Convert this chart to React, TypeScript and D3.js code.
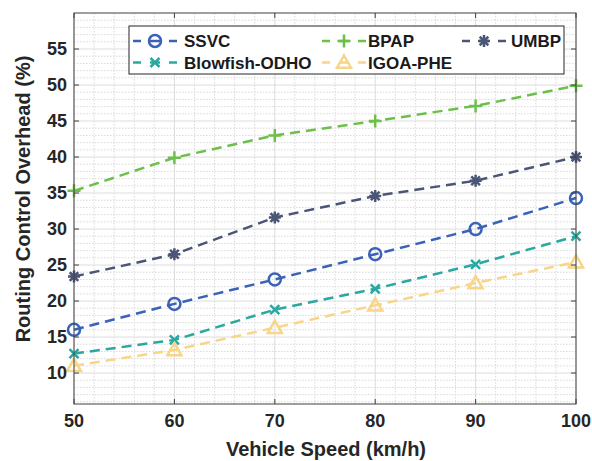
import React from "react";
import * as d3 from "d3";

const speeds = [50, 60, 70, 80, 90, 100];
const ssvc = [16.0, 19.6, 23.0, 26.5, 30.0, 34.3];
const bpap = [35.3, 39.9, 43.0, 45.0, 47.1, 49.9];
const umbp = [23.4, 26.5, 31.6, 34.6, 36.7, 40.0];
const blowfish = [12.7, 14.6, 18.8, 21.7, 25.1, 29.0];
const igoa = [11.0, 13.2, 16.3, 19.4, 22.5, 25.4];
const xTicks = [50, 60, 70, 80, 90, 100];
const yTicks = [10, 15, 20, 25, 30, 35, 40, 45, 50, 55];

const seriesList = [
  { name: "SSVC", values: ssvc, color: "#3A62B8", marker: "circle" },
  { name: "BPAP", values: bpap, color: "#6CC04A", marker: "plus" },
  { name: "UMBP", values: umbp, color: "#4B5677", marker: "star" },
  { name: "Blowfish-ODHO", values: blowfish, color: "#2AA8A0", marker: "x" },
  { name: "IGOA-PHE", values: igoa, color: "#F8D587", marker: "triangle" },
];

const FONT = "Arial, 'Liberation Sans', Helvetica, sans-serif";

function Marker({ type, x, y, color }: { type: string; x: number; y: number; color: string }) {
  const sw = 2.5;
  if (type === "circle") {
    return <circle cx={x} cy={y} r={6} fill="none" stroke={color} strokeWidth={sw} />;
  }
  if (type === "plus") {
    const s = 6.5;
    return (
      <path d={`M${x - s},${y}H${x + s}M${x},${y - s}V${y + s}`} stroke={color} strokeWidth={sw} fill="none" />
    );
  }
  if (type === "x") {
    const s = 4.5;
    return (
      <path
        d={`M${x - s},${y - s}L${x + s},${y + s}M${x - s},${y + s}L${x + s},${y - s}`}
        stroke={color}
        strokeWidth={sw}
        fill="none"
      />
    );
  }
  if (type === "star") {
    const s = 6;
    const d = 4.3;
    return (
      <path
        d={`M${x - s},${y}H${x + s}M${x},${y - s}V${y + s}M${x - d},${y - d}L${x + d},${y + d}M${x - d},${y + d}L${x + d},${y - d}`}
        stroke={color}
        strokeWidth={sw}
        fill="none"
      />
    );
  }
  if (type === "triangle") {
    const s = 7;
    return (
      <path
        d={`M${x},${y - s}L${x + s},${y + s * 0.75}L${x - s},${y + s * 0.75}Z`}
        stroke={color}
        strokeWidth={sw}
        fill="none"
        strokeLinejoin="miter"
      />
    );
  }
  return null;
}

export default function App() {
  const W = 592;
  const H = 461;
  const left = 74;
  const right = 576;
  const top = 13;
  const bottom = 404;

  const x = d3.scaleLinear().domain([50, 100]).range([left, right]);
  const y = d3.scaleLinear().domain([5.7, 60]).range([bottom, top]);

  const minorX = d3.range(50, 101, 2).filter((v) => v % 10 !== 0);
  const minorY = d3.range(6, 60, 1).filter((v) => v % 5 !== 0);

  const line = d3
    .line<number>()
    .x((_, i) => x(speeds[i]))
    .y((d) => y(d));

  const legendItems = [
    { s: seriesList[0], lx: 133, tx: 184, row: 0 },
    { s: seriesList[1], lx: 322, tx: 368, row: 0 },
    { s: seriesList[2], lx: 462, tx: 511, row: 0 },
    { s: seriesList[3], lx: 133, tx: 184, row: 1 },
    { s: seriesList[4], lx: 322, tx: 368, row: 1 },
  ];
  const rowY = [41, 62.5];

  const tickLen = 5;

  return (
    <svg
      width={W}
      height={H}
      style={{ position: "absolute", left: 0, top: 0, background: "#fff" }}
      fontFamily={FONT}
    >
      <rect x={0} y={0} width={W} height={H} fill="#fff" />
      {/* minor grid */}
      {minorX.map((v) => (
        <line key={"mx" + v} x1={x(v)} x2={x(v)} y1={top} y2={bottom} stroke="#cfcfcf" strokeWidth={0.8} strokeDasharray="1.5,1.5" />
      ))}
      {minorY.map((v) => (
        <line key={"my" + v} x1={left} x2={right} y1={y(v)} y2={y(v)} stroke="#cfcfcf" strokeWidth={0.8} strokeDasharray="1.5,1.5" />
      ))}
      {/* major grid */}
      {xTicks.map((v) => (
        <line key={"gx" + v} x1={x(v)} x2={x(v)} y1={top} y2={bottom} stroke="#dcdcdc" strokeWidth={1} />
      ))}
      {yTicks.map((v) => (
        <line key={"gy" + v} x1={left} x2={right} y1={y(v)} y2={y(v)} stroke="#dcdcdc" strokeWidth={1} />
      ))}

      {/* series */}
      {seriesList.map((s) => (
        <g key={s.name}>
          <path d={line(s.values) || ""} fill="none" stroke={s.color} strokeWidth={2.5} strokeDasharray="10,6" />
          {s.values.map((v, i) => (
            <Marker key={i} type={s.marker} x={x(speeds[i])} y={y(v)} color={s.color} />
          ))}
        </g>
      ))}

      {/* axes box */}
      <rect x={left} y={top} width={right - left} height={bottom - top} fill="none" stroke="#404040" strokeWidth={1} />
      {xTicks.map((v) => (
        <g key={"tx" + v}>
          <line x1={x(v)} x2={x(v)} y1={bottom} y2={bottom - tickLen} stroke="#404040" />
          <line x1={x(v)} x2={x(v)} y1={top} y2={top + tickLen} stroke="#404040" />
          <text x={x(v)} y={427} textAnchor="middle" fontSize={18} fontWeight="bold" fill="#262626">
            {v}
          </text>
        </g>
      ))}
      {yTicks.map((v) => (
        <g key={"ty" + v}>
          <line x1={left} x2={left + tickLen} y1={y(v)} y2={y(v)} stroke="#404040" />
          <line x1={right} x2={right - tickLen} y1={y(v)} y2={y(v)} stroke="#404040" />
          <text x={67} y={y(v) + 6.3} textAnchor="end" fontSize={18} fontWeight="bold" fill="#262626">
            {v}
          </text>
        </g>
      ))}

      {/* axis titles */}
      <text x={326} y={456} textAnchor="middle" fontSize={20} fontWeight="bold" fill="#262626">
        Vehicle Speed (km/h)
      </text>
      <text
        transform={`translate(29.5, 199) rotate(-90)`}
        textAnchor="middle"
        fontSize={20}
        fontWeight="bold"
        fill="#262626"
      >
        Routing Control Overhead (%)
      </text>

      {/* legend */}
      <rect x={129} y={26} width={435} height={48} fill="#fff" stroke="#262626" strokeWidth={1} />
      {legendItems.map(({ s, lx, tx, row }) => (
        <g key={"lg" + s.name}>
          <line x1={lx} x2={lx + 8} y1={rowY[row]} y2={rowY[row]} stroke={s.color} strokeWidth={2.5} />
          <line x1={lx + 17} x2={lx + 27} y1={rowY[row]} y2={rowY[row]} stroke={s.color} strokeWidth={2.5} />
          <line x1={lx + 36} x2={lx + 44} y1={rowY[row]} y2={rowY[row]} stroke={s.color} strokeWidth={2.5} />
          <Marker type={s.marker} x={lx + 22} y={rowY[row]} color={s.color} />
          <text x={tx} y={rowY[row] + 6} fontSize={17} fontWeight="bold" fill="#1a1a1a">
            {s.name}
          </text>
        </g>
      ))}
    </svg>
  );
}
